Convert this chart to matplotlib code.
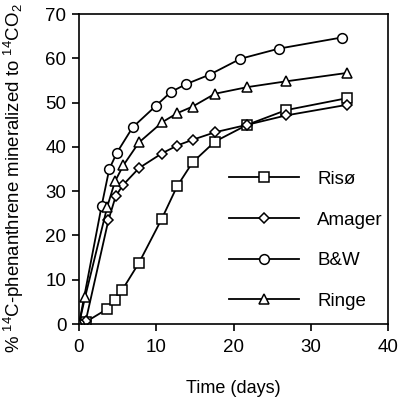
import matplotlib
matplotlib.use("Agg")
import matplotlib.pyplot as plt

plt.rcParams['font.family'] = ['Liberation Sans', 'DejaVu Sans']
plt.rcParams['mathtext.default'] = 'regular'

riso_x = [0, 0.86, 3.66, 4.7, 5.6, 7.76, 10.7, 12.7, 14.7, 17.6, 21.8, 26.8, 34.7]
riso_y = [0, 0.45, 3.4, 5.5, 7.7, 13.8, 23.7, 31.1, 36.5, 41.2, 45.0, 48.3, 51.0]

amager_x = [0, 0.86, 3.8, 4.74, 5.65, 7.76, 10.7, 12.7, 14.7, 17.6, 21.8, 26.8, 34.7]
amager_y = [0, 0.6, 23.4, 28.8, 31.3, 35.2, 38.5, 40.3, 41.6, 43.3, 45.0, 47.1, 49.5]

bw_x = [0, 2.93, 3.92, 4.91, 6.94, 9.91, 11.9, 13.9, 16.9, 20.9, 25.9, 34.0]
bw_y = [0, 26.7, 35.0, 38.7, 44.4, 49.2, 52.4, 54.2, 56.3, 59.9, 62.2, 64.7]

ringe_x = [0, 0.78, 3.66, 4.66, 5.73, 7.76, 10.8, 12.7, 14.7, 17.6, 21.8, 26.8, 34.7]
ringe_y = [0, 6.0, 26.5, 32.2, 35.8, 41.0, 45.6, 47.6, 49.1, 52.0, 53.5, 54.8, 56.7]

fig = plt.figure(figsize=(4.0, 4.01), dpi=100)
ax = fig.add_axes([0.1975, 0.192, 0.7725, 0.773])

style = dict(color='black', linewidth=1.3, markerfacecolor='white',
             markeredgecolor='black', markeredgewidth=1.1)
ax.plot(riso_x, riso_y, marker='s', markersize=7.5, label='Risø', **style)
ax.plot(amager_x, amager_y, marker='D', markersize=5.5, label='Amager', **style)
ax.plot(bw_x, bw_y, marker='o', markersize=7, label='B&W', **style)
ax.plot(ringe_x, ringe_y, marker='^', markersize=7.5, label='Ringe', **style)

ax.set_xlim(0, 40)
ax.set_ylim(0, 70)
ax.set_xticks(range(0, 41, 10))
ax.set_yticks(range(0, 71, 10))
ax.tick_params(direction='out', length=5, width=1.2, labelsize=13.5)
ax.tick_params(axis='x', pad=6)
ax.tick_params(axis='y', pad=4)
for s in ax.spines.values():
    s.set_linewidth(1.2)

ax.set_xlabel('Time (days)', fontsize=13, labelpad=17)
ax.set_ylabel('% $^{14}$C-phenanthrene mineralized to $^{14}$CO$_2$',
              fontsize=13.4)
ax.yaxis.set_label_coords(-0.172, 0.469)

ax.legend(loc='center', bbox_to_anchor=(0.735, 0.27), frameon=False,
          fontsize=13.5, handlelength=3.7, handletextpad=1.0, labelspacing=1.25)

fig.savefig('out.png', dpi=100)
